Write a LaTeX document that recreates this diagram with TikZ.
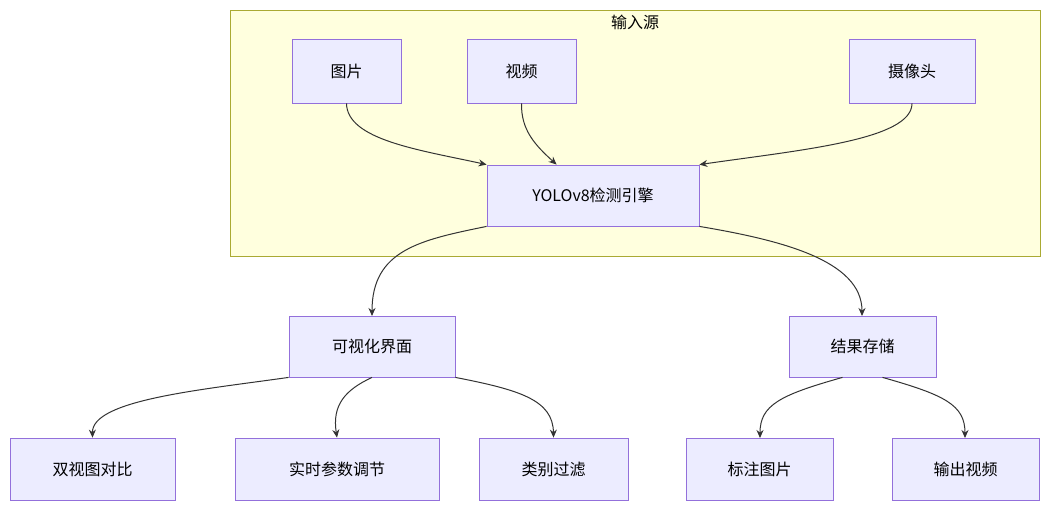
\documentclass[tikz,border=0pt]{standalone}
\usepackage{fontspec}
\setmainfont{Noto Sans CJK SC}
\usetikzlibrary{arrows.meta}
\definecolor{nfill}{HTML}{ECECFF}
\definecolor{nstroke}{HTML}{9370DB}
\definecolor{gfill}{HTML}{FFFFDE}
\definecolor{gstroke}{HTML}{AAAA33}
\definecolor{edge}{HTML}{333333}
\begin{document}
\begin{tikzpicture}[x=1pt,y=-1pt,
  box/.style={draw=nstroke,fill=nfill,line width=0.8pt,inner sep=0pt,font=\fontsize{16}{18}\selectfont},
  arr/.style={draw=edge,line width=1pt,-{Stealth[length=8pt,width=7pt]}}]
\useasboundingbox[fill=white] (0,0) rectangle (1049,512);
\draw[draw=gstroke,fill=gfill,line width=0.8pt] (230,10) rectangle (1040,256);
\node[font=\fontsize{16}{18}\selectfont] (glabel) at (635,22) {输入源};
\newcommand{\bx}[6]{\node[box,minimum width=#4-#2,minimum height=#5-#3] (#1) at ({(#2+#4)/2},{(#3+#5)/2}) {#6};}
\bx{img}{292}{39}{401}{103}{图片}
\bx{vid}{467}{39}{576}{103}{视频}
\bx{cam}{849}{39}{975}{103}{摄像头}
\bx{yolo}{487}{165}{699}{226}{YOLOv8检测引擎}
\bx{gui}{289}{316}{455}{377}{可视化界面}
\bx{store}{789}{316}{936}{377}{结果存储}
\bx{dual}{10}{438}{175}{500}{双视图对比}
\bx{param}{235}{438}{439}{500}{实时参数调节}
\bx{filt}{479}{438}{628}{500}{类别过滤}
\bx{mark}{686}{438}{833}{500}{标注图片}
\bx{out}{892}{438}{1039}{500}{输出视频}
\draw[arr] (img.south) .. controls (347,140) and (420,150) .. (yolo.north west);
\draw[arr] (vid.south) .. controls (521,130) and (535,145) .. ([xshift=70pt]yolo.north west);
\draw[arr] (cam.south) .. controls (912,140) and (800,150) .. (yolo.north east);
\draw[arr] (yolo.south west) .. controls (420,240) and (372,250) .. (372,316);
\draw[arr] (yolo.south east) .. controls (780,240) and (862,260) .. (862,316);
\draw[arr] (gui.south west) .. controls (200,390) and (92,400) .. (dual.north);
\draw[arr] (gui.south) .. controls (345,390) and (332,405) .. (param.north);
\draw[arr] (gui.south east) .. controls (520,390) and (553,400) .. (filt.north);
\draw[arr] ([xshift=-20pt]store.south) .. controls (780,395) and (760,405) .. (760,438);
\draw[arr] ([xshift=20pt]store.south) .. controls (945,395) and (965,405) .. (965,438);
\end{tikzpicture}
\end{document}
